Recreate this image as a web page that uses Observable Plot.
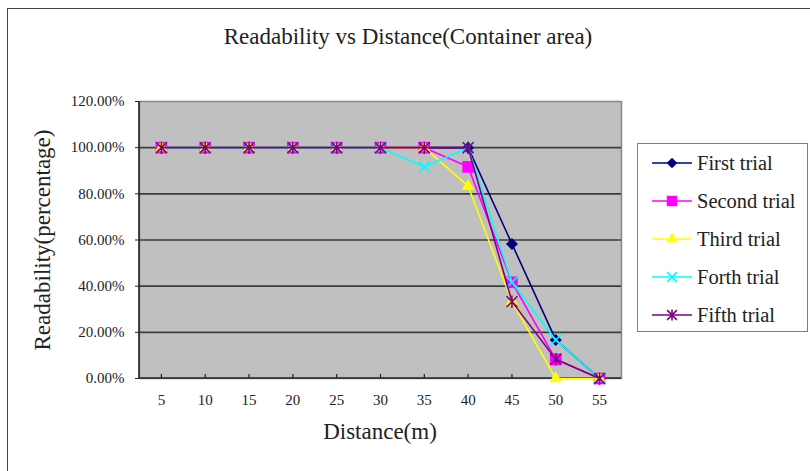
<!DOCTYPE html>
<html><head><meta charset="utf-8">
<script src="https://cdn.jsdelivr.net/npm/d3@7"></script>
<script src="https://cdn.jsdelivr.net/npm/@observablehq/plot@0.6"></script>
<style>
body{margin:0;background:#fff;overflow:hidden;}
#wrap{position:relative;width:810px;height:471px;overflow:hidden;font-family:"Liberation Serif","Times New Roman",serif;color:#222;}
#outer{position:absolute;left:7px;top:8px;width:900px;height:600px;border:1.5px solid #444;box-sizing:border-box;}
#chart{position:absolute;left:0;top:0;}
.txt{position:absolute;white-space:nowrap;line-height:1;}
#title{left:408px;top:25px;font-size:23px;transform:translateX(-50%);}
#xtitle{left:380px;top:420px;font-size:23px;transform:translateX(-50%);}
#ytitle{left:42px;top:240px;font-size:23px;transform:translate(-50%,-50%) rotate(-90deg);}
#legend{position:absolute;left:637px;top:143px;width:171px;height:189px;border:1.5px solid #808080;box-sizing:border-box;background:#fff;}
.lrow{position:absolute;left:14px;height:22px;display:flex;align-items:center;}
.lrow span{font-size:20.5px;margin-left:5px;line-height:1;}
</style></head>
<body>
<div id="wrap">
  <div id="outer"></div>
  <div id="chart"></div>
  <div class="txt" id="title">Readability vs Distance(Container area)</div>
  <div class="txt" id="xtitle">Distance(m)</div>
  <div class="txt" id="ytitle">Readability(percentage)</div>
  <div id="legend"></div>
</div>
<script>
// ---- data ----
const distances = [5, 10, 15, 20, 25, 30, 35, 40, 45, 50, 55];
const seriesNames = ["First trial", "Second trial", "Third trial", "Forth trial", "Fifth trial"];
const firstTrial  = [1, 1, 1, 1, 1, 1, 1,     1,     0.583, 0.167, 0];
const secondTrial = [1, 1, 1, 1, 1, 1, 1,     0.917, 0.417, 0.083, 0];
const thirdTrial  = [1, 1, 1, 1, 1, 1, 1,     0.833, 0.333, 0,     0];
const forthTrial  = [1, 1, 1, 1, 1, 1, 0.917, 1,     0.417, 0.167, 0];
const fifthTrial  = [1, 1, 1, 1, 1, 1, 1,     1,     0.333, 0.083, 0];
const yTicks = [0, 0.2, 0.4, 0.6, 0.8, 1.0, 1.2];

// ---- styles ----
const seriesValues = [firstTrial, secondTrial, thirdTrial, forthTrial, fifthTrial];
const colors = ["#000080", "#FF00FF", "#FFFF00", "#00FFFF", "#800080"];
const symTimes = {draw(ctx, size) {
  const r = Math.sqrt(size) * 0.45;
  ctx.moveTo(-r, -r); ctx.lineTo(r, r); ctx.moveTo(-r, r); ctx.lineTo(r, -r);
}};
const symStar = {draw(ctx, size) {
  const r = Math.sqrt(size) * 0.45;
  ctx.moveTo(-r, -r); ctx.lineTo(r, r); ctx.moveTo(-r, r); ctx.lineTo(r, -r);
  ctx.moveTo(0, -r * 1.15); ctx.lineTo(0, r * 1.15);
}};
const symbolTypes = [d3.symbolDiamond2, d3.symbolSquare, d3.symbolTriangle, symTimes, symStar];
const radii = [5.4, 6.6, 4.6, 6.8, 6.8];
const filled = [true, true, true, false, false];

const tables = seriesValues.map((vals, i) =>
  distances.map((d, j) => ({distance: d, value: vals[j], series: seriesNames[i]})));

const marks = [
  Plot.frame({fill: "#C0C0C0", stroke: "#888888", strokeWidth: 1.5}),
  Plot.ruleY(yTicks.filter(t => t > 0 && t < 1.2), {stroke: "#3c3c3c", strokeWidth: 1.6}),
  Plot.tickX(distances, {x: d => d, insetTop: 273, stroke: "#222", strokeWidth: 1.2}),
  (index, scales, values, dims) => {
    const g = d3.create("svg:g");
    g.append("line")
      .attr("x1", dims.marginLeft).attr("x2", dims.marginLeft)
      .attr("y1", dims.marginTop).attr("y2", dims.height - dims.marginBottom)
      .attr("stroke", "#222").attr("stroke-width", 1.6);
    g.append("line")
      .attr("x1", dims.marginLeft).attr("x2", dims.width - dims.marginRight)
      .attr("y1", dims.height - dims.marginBottom).attr("y2", dims.height - dims.marginBottom)
      .attr("stroke", "#222").attr("stroke-width", 1.6);
    return g.node();
  }
];
tables.forEach((t, i) => {
  marks.push(Plot.line(t, {x: "distance", y: "value", stroke: colors[i], strokeWidth: 1.6}));
  marks.push(Plot.dot(t, {
    x: "distance", y: "value", symbol: () => symbolTypes[i], r: radii[i],
    fill: filled[i] ? colors[i] : "none",
    stroke: filled[i] ? "none" : colors[i], strokeWidth: 1.6
  }));
});

const chart = Plot.plot({
  width: 810, height: 471,
  marginLeft: 139, marginRight: 189, marginTop: 101, marginBottom: 93,
  style: {fontFamily: "'Liberation Serif', 'Times New Roman', serif", fontSize: "15px", color: "#222", background: "transparent"},
  x: {type: "point", domain: distances, padding: 0.5, round: false, tickSize: 0, tickPadding: 16, label: null},
  y: {domain: [0, 1.2], ticks: yTicks, tickSize: 4, tickPadding: 11, label: null,
      tickFormat: d => (d * 100).toFixed(2) + "%"},
  symbol: {type: "identity"},
  marks
});
document.getElementById("chart").appendChild(chart);

// ---- legend ----
const legend = d3.select("#legend");
seriesNames.forEach((name, i) => {
  const row = legend.append("div").attr("class", "lrow").style("top", (8 + i * 38) + "px");
  const svg = row.append("svg").attr("width", 40).attr("height", 20);
  svg.append("line").attr("x1", 0).attr("x2", 40).attr("y1", 10).attr("y2", 10)
    .attr("stroke", colors[i]).attr("stroke-width", 1.6);
  svg.append("path")
    .attr("transform", "translate(20,10)")
    .attr("d", d3.symbol(symbolTypes[i], Math.PI * radii[i] * radii[i] * 0.8)())
    .attr("fill", filled[i] ? colors[i] : "none")
    .attr("stroke", filled[i] ? "none" : colors[i]).attr("stroke-width", 1.6);
  row.append("span").text(name);
});
</script>
</body></html>
